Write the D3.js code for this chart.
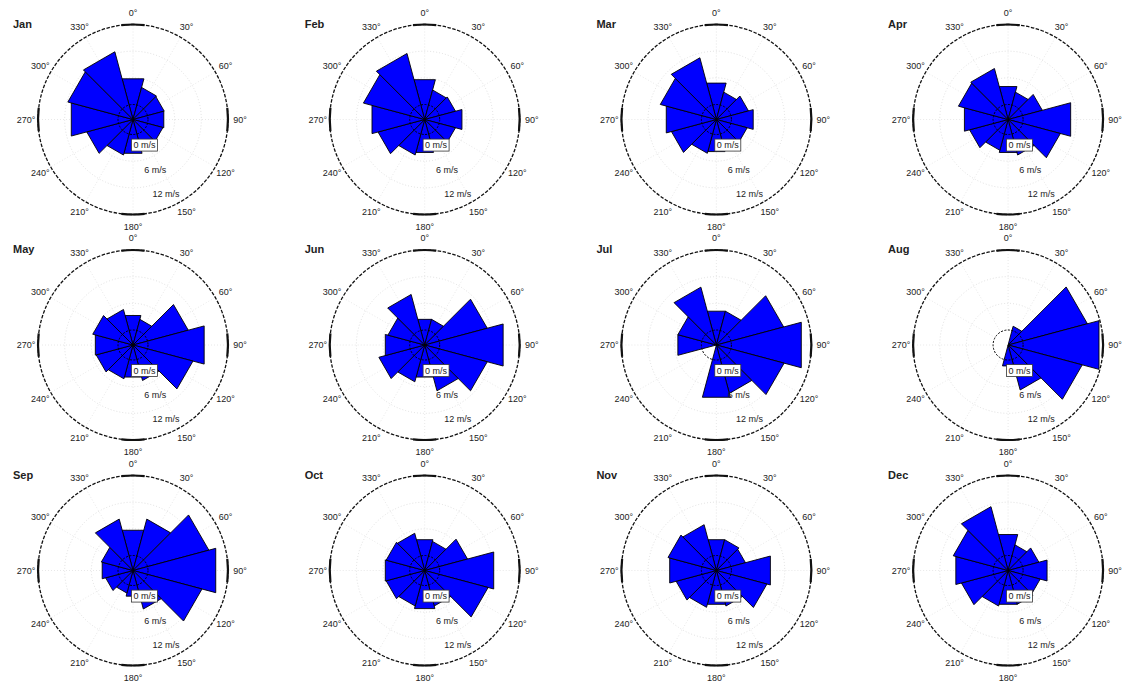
<!DOCTYPE html>
<html>
<head>
<meta charset="utf-8">
<script src="https://cdn.jsdelivr.net/npm/d3@7"></script>
<style>
body { margin: 0; background: #fff; }
text { font-family: "Liberation Sans", Arial, sans-serif; fill: #222; }
</style>
</head>
<body>
<div id="chart"></div>
<script>
var w = 1122;
var h = 682;
var startx = 133, stepx = 291.7;   // panel centres
var starty = 119.5, stepy = 225.5;
var R = 95;                         // outer circle radius

var months = ["Jan", "Feb", "Mar", "Apr", "May", "Jun", "Jul", "Aug", "Sep", "Oct", "Nov", "Dec"];
var directions = [0, 30, 60, 90, 120, 150, 180, 210, 240, 270, 300, 330];
var dirLabels = ["0°", "30°", "60°", "90°", "120°", "150°", "180°", "210°", "240°", "270°", "300°", "330°"];
var speedTicks = [0, 6, 12];
var speedLabels = ["0 m/s", "6 m/s", "12 m/s"];

// mean wind speed (m/s) per direction sector, null = no data
var jan = [6.1, 4.1, 3.9, 3.8, 3.6, 4.0, 4.5, 4.9, 7.4, 11.0, 11.8, 12.4];
var feb = [5.9, 3.5, 3.8, 5.3, 3.8, 3.4, 4.3, 4.9, 7.5, 8.9, 10.9, 12.0];
var mar = [5.1, 3.0, 4.1, 5.2, 3.8, 3.8, 4.1, 4.5, 7.1, 8.3, 9.7, 11.0];
var apr = [4.3, 3.0, 4.6, 11.2, 8.8, 4.9, 4.3, 3.8, 5.6, 6.8, 8.2, 8.5];
var may = [3.5, 2.6, 9.5, 13.2, 10.6, 4.9, 4.1, 4.5, 5.2, 5.4, 6.0, 4.9];
var jun = [2.6, 2.6, 11.2, 14.9, 11.2, 7.3, 4.1, 5.2, 7.3, 5.8, 5.2, 8.4];
var jul = [4.5, 4.5, 12.3, 16.4, 12.4, 7.9, 8.8, null, null, 5.6, 5.6, 10.1];
var aug = [null, 1.0, 15.1, 17.8, 13.9, 7.1, 1.5, null, null, null, null, null];
var sep = [6.0, 8.6, 14.3, 15.9, 12.7, 5.6, 2.6, 1.9, 3.0, 3.8, 4.0, 8.6];
var oct = [3.8, 3.4, 6.6, 12.7, 11.4, 4.9, 5.5, 4.9, 5.6, 5.8, 5.6, 5.3];
var nov = [3.8, 3.8, 3.4, 9.2, 8.4, 4.9, 4.5, 5.2, 6.0, 7.5, 7.9, 7.3];
var dec = [5.0, 2.6, 3.8, 5.7, 4.1, 4.5, 4.5, 4.9, 7.5, 8.8, 9.4, 11.5];

var monthData = [jan, feb, mar, apr, may, jun, jul, aug, sep, oct, nov, dec];

function init(){

	var svg = d3.select("#chart")
				.append("svg")
				.attr("width", w)
				.attr("height", h);

	var rScale = d3.scaleLinear()
					.domain([0, 18])
					.range([15, R]);

	var rad = function(deg) { return deg * Math.PI / 180; };

	//triangular sector, angle 0 = north, clockwise
	var sector = d3.lineRadial()
				.angle(function(d) { return rad(d[0]); })
				.radius(function(d) { return d[1]; })
				.curve(d3.curveLinearClosed);

	var tickArc = d3.arc()
				.innerRadius(R - 1.1)
				.outerRadius(R + 1.1);

	months.forEach(function(m, i){
		var cx = startx + (i % 4) * stepx;
		var cy = starty + Math.floor(i / 4) * stepy;
		var values = monthData[i];

		var g = svg.append("g")
			.attr("transform", "translate(" + cx + "," + cy + ")");

		//faint grid
		g.selectAll(".ring")
			.data([6, 12])
			.enter().append("circle")
			.attr("r", function(d) { return rScale(d); })
			.attr("fill", "none")
			.attr("stroke", "#d8d8d8")
			.attr("stroke-width", 0.8)
			.attr("stroke-dasharray", "1,2");

		g.selectAll(".spoke")
			.data(directions)
			.enter().append("line")
			.attr("x1", function(d) { return rScale(0) * Math.sin(rad(d)); })
			.attr("y1", function(d) { return -rScale(0) * Math.cos(rad(d)); })
			.attr("x2", function(d) { return R * Math.sin(rad(d)); })
			.attr("y2", function(d) { return -R * Math.cos(rad(d)); })
			.attr("stroke", "#e2e2e2")
			.attr("stroke-width", 0.8)
			.attr("stroke-dasharray", "1,2");

		//outer circle
		g.append("circle")
			.attr("r", R)
			.attr("fill", "none")
			.attr("stroke", "#111")
			.attr("stroke-width", 1.3)
			.attr("stroke-dasharray", "3.5,1.5");

		g.selectAll(".tick")
			.data([0, 90, 180, 270])
			.enter().append("path")
			.attr("d", function(d) {
				return tickArc({startAngle: rad(d - 7), endAngle: rad(d + 7)});
			})
			.attr("fill", "#111");

		//bars
		g.selectAll(".bar")
			.data(directions.filter(function(d, j) { return values[j] != null; }))
			.enter().append("path")
			.attr("d", function(d) {
				var r = rScale(values[directions.indexOf(d)]);
				return sector([[d, 0], [d - 15, r], [d + 15, r]]);
			})
			.attr("fill", "#0000ff")
			.attr("stroke", "#000")
			.attr("stroke-width", 0.9)
			.attr("stroke-linejoin", "miter");

		//zero ring on top
		g.append("circle")
			.attr("r", rScale(0))
			.attr("fill", "none")
			.attr("stroke", "#000")
			.attr("stroke-width", 1)
			.attr("stroke-dasharray", "2,1.5");

		//direction labels
		g.selectAll(".dir")
			.data(directions)
			.enter().append("text")
			.attr("x", function(d) { return (R + 12) * Math.sin(rad(d)); })
			.attr("y", function(d) { return -(R + 12) * Math.cos(rad(d)); })
			.attr("dy", "0.35em")
			.attr("text-anchor", "middle")
			.style("font-size", "9px")
			.text(function(d, j) { return dirLabels[j]; });

		//speed labels along 156 deg
		var la = rad(156);
		var sl = g.selectAll(".spd")
			.data(speedTicks)
			.enter().append("g")
			.attr("transform", function(d) {
				var r = rScale(d) + 13;
				return "translate(" + (r * Math.sin(la)) + "," + (-r * Math.cos(la)) + ")";
			});

		sl.filter(function(d) { return d == 0; })
			.append("rect")
			.attr("x", -13)
			.attr("y", -6)
			.attr("width", 26)
			.attr("height", 12)
			.attr("fill", "#fff")
			.attr("stroke", "#333")
			.attr("stroke-width", 0.8);

		sl.append("text")
			.attr("dy", "0.35em")
			.attr("text-anchor", "middle")
			.style("font-size", "9px")
			.text(function(d, j) { return speedLabels[j]; });

		//month title
		g.append("text")
			.attr("x", -120)
			.attr("y", -92)
			.style("font-size", "11px")
			.style("font-weight", "bold")
			.text(m);
	});
}

window.onload = init;
</script>
</body>
</html>
